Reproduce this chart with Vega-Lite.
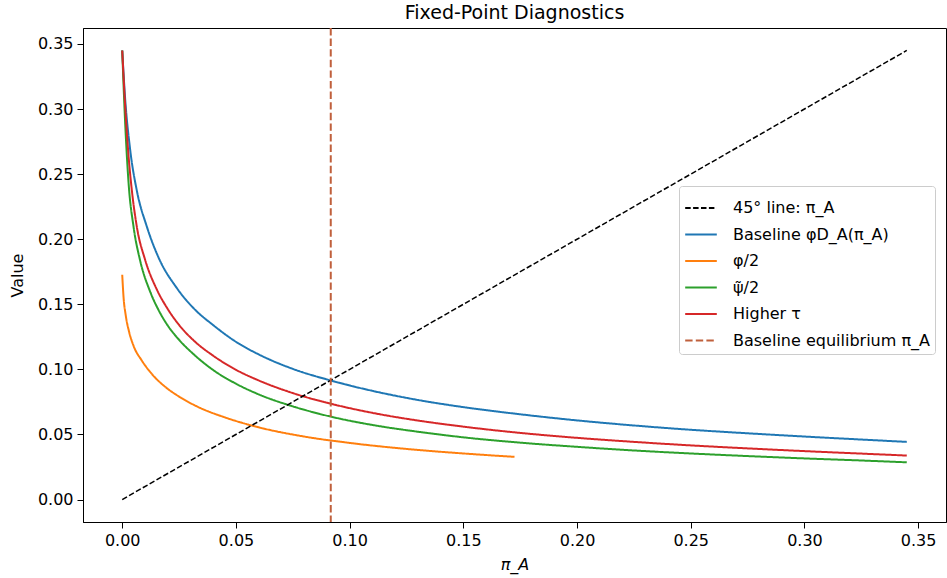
{
  "$schema": "https://vega.github.io/schema/vega-lite/v6.json",
  "width": 863,
  "height": 494,
  "autosize": {"type": "none"},
  "padding": {"left": 83, "top": 28, "right": 1, "bottom": 56},
  "background": "white",
  "title": {"text": "Fixed-Point Diagnostics", "fontSize": 19, "font": "DejaVu Sans", "fontWeight": "normal", "color": "black", "offset": 4},
  "config": {
    "view": {"stroke": "black", "strokeWidth": 1},
    "axis": {
      "grid": false,
      "domainColor": "black",
      "domainWidth": 1,
      "tickColor": "black",
      "tickSize": 6,
      "labelFont": "DejaVu Sans",
      "labelFontSize": 16,
      "labelColor": "black",
      "labelPadding": 4,
      "titleFont": "DejaVu Sans",
      "titleFontSize": 16,
      "titleFontWeight": "normal",
      "titleColor": "black"
    },
    "legend": {
      "labelFont": "DejaVu Sans",
      "labelFontSize": 16,
      "labelColor": "black",
      "labelLimit": 0
    }
  },
  "datasets": {
    "curves": [
      {"s": "45° line: π_A", "x": 0, "y": 0},
      {"s": "45° line: π_A", "x": 0.345, "y": 0.345},

      {"s": "Baseline φD_A(π_A)", "x": 0, "y": 0.345},
      {"s": "Baseline φD_A(π_A)", "x": 0.0012, "y": 0.31},
      {"s": "Baseline φD_A(π_A)", "x": 0.0035, "y": 0.2686},
      {"s": "Baseline φD_A(π_A)", "x": 0.0064, "y": 0.2375},
      {"s": "Baseline φD_A(π_A)", "x": 0.0108, "y": 0.2098},
      {"s": "Baseline φD_A(π_A)", "x": 0.016, "y": 0.1858},
      {"s": "Baseline φD_A(π_A)", "x": 0.024, "y": 0.1625},
      {"s": "Baseline φD_A(π_A)", "x": 0.032, "y": 0.1459},
      {"s": "Baseline φD_A(π_A)", "x": 0.04, "y": 0.134},
      {"s": "Baseline φD_A(π_A)", "x": 0.05, "y": 0.1212},
      {"s": "Baseline φD_A(π_A)", "x": 0.06, "y": 0.1115},
      {"s": "Baseline φD_A(π_A)", "x": 0.075, "y": 0.1004},
      {"s": "Baseline φD_A(π_A)", "x": 0.092, "y": 0.0913},
      {"s": "Baseline φD_A(π_A)", "x": 0.11, "y": 0.0835},
      {"s": "Baseline φD_A(π_A)", "x": 0.13, "y": 0.0765},
      {"s": "Baseline φD_A(π_A)", "x": 0.15, "y": 0.071},
      {"s": "Baseline φD_A(π_A)", "x": 0.175, "y": 0.0655},
      {"s": "Baseline φD_A(π_A)", "x": 0.2, "y": 0.0608},
      {"s": "Baseline φD_A(π_A)", "x": 0.225, "y": 0.0569},
      {"s": "Baseline φD_A(π_A)", "x": 0.25, "y": 0.0536},
      {"s": "Baseline φD_A(π_A)", "x": 0.275, "y": 0.0509},
      {"s": "Baseline φD_A(π_A)", "x": 0.3, "y": 0.0484},
      {"s": "Baseline φD_A(π_A)", "x": 0.325, "y": 0.0461},
      {"s": "Baseline φD_A(π_A)", "x": 0.345, "y": 0.0443},

      {"s": "φ/2", "x": 0, "y": 0.1727},
      {"s": "φ/2", "x": 0.0006, "y": 0.155},
      {"s": "φ/2", "x": 0.0015, "y": 0.142},
      {"s": "φ/2", "x": 0.003, "y": 0.129},
      {"s": "φ/2", "x": 0.005, "y": 0.118},
      {"s": "φ/2", "x": 0.0086, "y": 0.1068},
      {"s": "φ/2", "x": 0.013, "y": 0.0965},
      {"s": "φ/2", "x": 0.0189, "y": 0.0866},
      {"s": "φ/2", "x": 0.025, "y": 0.0791},
      {"s": "φ/2", "x": 0.0335, "y": 0.071},
      {"s": "φ/2", "x": 0.045, "y": 0.0632},
      {"s": "φ/2", "x": 0.06, "y": 0.0555},
      {"s": "φ/2", "x": 0.08, "y": 0.0484},
      {"s": "φ/2", "x": 0.1, "y": 0.0435},
      {"s": "φ/2", "x": 0.13, "y": 0.0381},
      {"s": "φ/2", "x": 0.15, "y": 0.0354},
      {"s": "φ/2", "x": 0.1725, "y": 0.0328},

      {"s": "ψ̃/2", "x": 0, "y": 0.345},
      {"s": "ψ̃/2", "x": 0.0013, "y": 0.289},
      {"s": "ψ̃/2", "x": 0.0028, "y": 0.243},
      {"s": "ψ̃/2", "x": 0.005, "y": 0.2093},
      {"s": "ψ̃/2", "x": 0.0079, "y": 0.1834},
      {"s": "ψ̃/2", "x": 0.0123, "y": 0.1596},
      {"s": "ψ̃/2", "x": 0.016, "y": 0.1455},
      {"s": "ψ̃/2", "x": 0.02, "y": 0.1337},
      {"s": "ψ̃/2", "x": 0.025, "y": 0.1227},
      {"s": "ψ̃/2", "x": 0.032, "y": 0.1107},
      {"s": "ψ̃/2", "x": 0.04, "y": 0.0995},
      {"s": "ψ̃/2", "x": 0.05, "y": 0.089},
      {"s": "ψ̃/2", "x": 0.06, "y": 0.0808},
      {"s": "ψ̃/2", "x": 0.075, "y": 0.0716},
      {"s": "ψ̃/2", "x": 0.092, "y": 0.0636},
      {"s": "ψ̃/2", "x": 0.11, "y": 0.0573},
      {"s": "ψ̃/2", "x": 0.13, "y": 0.0521},
      {"s": "ψ̃/2", "x": 0.15, "y": 0.0478},
      {"s": "ψ̃/2", "x": 0.175, "y": 0.0437},
      {"s": "ψ̃/2", "x": 0.2, "y": 0.0405},
      {"s": "ψ̃/2", "x": 0.225, "y": 0.0377},
      {"s": "ψ̃/2", "x": 0.25, "y": 0.0354},
      {"s": "ψ̃/2", "x": 0.275, "y": 0.0334},
      {"s": "ψ̃/2", "x": 0.3, "y": 0.0316},
      {"s": "ψ̃/2", "x": 0.325, "y": 0.03},
      {"s": "ψ̃/2", "x": 0.345, "y": 0.0286},

      {"s": "Higher τ", "x": 0, "y": 0.345},
      {"s": "Higher τ", "x": 0.0013, "y": 0.302},
      {"s": "Higher τ", "x": 0.0028, "y": 0.2635},
      {"s": "Higher τ", "x": 0.0042, "y": 0.238},
      {"s": "Higher τ", "x": 0.0064, "y": 0.2098},
      {"s": "Higher τ", "x": 0.0101, "y": 0.184},
      {"s": "Higher τ", "x": 0.0152, "y": 0.1614},
      {"s": "Higher τ", "x": 0.02, "y": 0.1464},
      {"s": "Higher τ", "x": 0.025, "y": 0.1341},
      {"s": "Higher τ", "x": 0.032, "y": 0.1213},
      {"s": "Higher τ", "x": 0.04, "y": 0.1105},
      {"s": "Higher τ", "x": 0.05, "y": 0.0997},
      {"s": "Higher τ", "x": 0.06, "y": 0.0915},
      {"s": "Higher τ", "x": 0.075, "y": 0.0818},
      {"s": "Higher τ", "x": 0.092, "y": 0.0735},
      {"s": "Higher τ", "x": 0.11, "y": 0.0666},
      {"s": "Higher τ", "x": 0.13, "y": 0.0607},
      {"s": "Higher τ", "x": 0.15, "y": 0.056},
      {"s": "Higher τ", "x": 0.175, "y": 0.0512},
      {"s": "Higher τ", "x": 0.2, "y": 0.0474},
      {"s": "Higher τ", "x": 0.225, "y": 0.0443},
      {"s": "Higher τ", "x": 0.25, "y": 0.0416},
      {"s": "Higher τ", "x": 0.275, "y": 0.0393},
      {"s": "Higher τ", "x": 0.3, "y": 0.0372},
      {"s": "Higher τ", "x": 0.325, "y": 0.0353},
      {"s": "Higher τ", "x": 0.345, "y": 0.0338}
    ],
    "eq": [
      {"s": "Baseline equilibrium π_A", "x": 0.0917}
    ]
  },
  "encoding": {
    "x": {
      "field": "x", "type": "quantitative",
      "scale": {"domain": [-0.01725, 0.36225], "nice": false, "zero": false},
      "axis": {"values": [0, 0.05, 0.1, 0.15, 0.2, 0.25, 0.3, 0.35], "format": ".2f", "title": "π_A", "titleFontStyle": "italic", "titlePadding": 8}
    },
    "color": {
      "field": "s", "type": "nominal",
      "scale": {
        "domain": ["45° line: π_A", "Baseline φD_A(π_A)", "φ/2", "ψ̃/2", "Higher τ", "Baseline equilibrium π_A"],
        "range": ["#000000", "#1f77b4", "#ff7f0e", "#2ca02c", "#d62728", "#c0603c"]
      },
      "legend": {
        "title": null,
        "orient": "none",
        "legendX": 596,
        "legendY": 158,
        "symbolType": "stroke",
        "symbolSize": 1000,
        "symbolStrokeWidth": 2,
        "rowPadding": 1.5,
        "labelOffset": 15,
        "padding": 5,
        "strokeColor": "#cccccc",
        "fillColor": "white",
        "cornerRadius": 3
      }
    },
    "strokeDash": {
      "field": "s", "type": "nominal",
      "scale": {
        "domain": ["45° line: π_A", "Baseline φD_A(π_A)", "φ/2", "ψ̃/2", "Higher τ", "Baseline equilibrium π_A"],
        "range": [[5.5, 2.4], [1, 0], [1, 0], [1, 0], [1, 0], [7.4, 3.2]]
      },
      "legend": {
        "title": null,
        "orient": "none",
        "legendX": 596,
        "legendY": 158,
        "symbolType": "stroke",
        "symbolSize": 1000,
        "symbolStrokeWidth": 2,
        "rowPadding": 1.5,
        "labelOffset": 15,
        "padding": 5,
        "strokeColor": "#cccccc",
        "fillColor": "white",
        "cornerRadius": 3
      }
    }
  },
  "layer": [
    {
      "data": {"name": "curves"},
      "transform": [{"filter": "datum.s !== '45° line: π_A'"}],
      "mark": {"type": "line", "strokeWidth": 2, "clip": true, "interpolate": "monotone"},
      "encoding": {
        "y": {
          "field": "y", "type": "quantitative",
          "scale": {"domain": [-0.01725, 0.36225], "nice": false, "zero": false},
          "axis": {"values": [0, 0.05, 0.1, 0.15, 0.2, 0.25, 0.3, 0.35], "format": ".2f", "title": "Value", "titlePadding": 12}
        }
      }
    },
    {
      "data": {"name": "curves"},
      "transform": [{"filter": "datum.s === '45° line: π_A'"}],
      "mark": {"type": "line", "strokeWidth": 1.5, "clip": true},
      "encoding": {
        "y": {"field": "y", "type": "quantitative"}
      }
    },
    {
      "data": {"name": "eq"},
      "mark": {"type": "rule", "strokeWidth": 2},
      "encoding": {}
    }
  ]
}
